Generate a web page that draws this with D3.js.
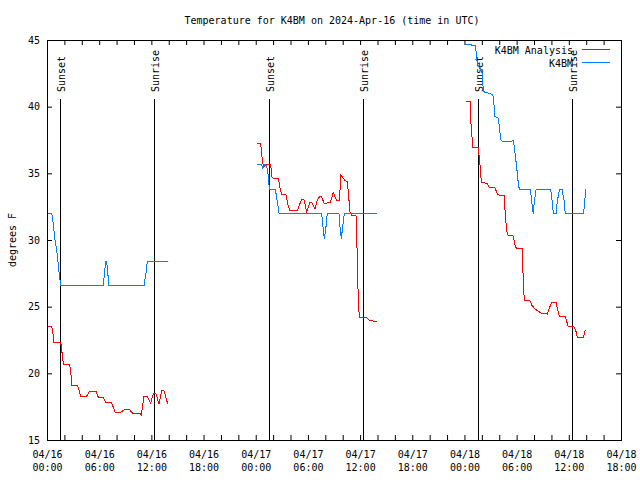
<!DOCTYPE html>
<html>
<head>
<meta charset="utf-8">
<script src="https://cdn.jsdelivr.net/npm/d3@7"></script>
<style>
  html, body { margin: 0; padding: 0; background: #fff; }
  svg { display: block; }
  text { font-family: "DejaVu Sans Mono", "Liberation Mono", monospace; font-size: 10px; fill: #000; }
</style>
</head>
<body>
<svg id="chart" width="640" height="480"></svg>
<script>
// ---- Data (hours since 2024-04-16 00:00 UTC, degrees F) ----
const titleText = "Temperature for K4BM on 2024-Apr-16 (time in UTC)";
const yLabelText = "degrees F";
const seriesNames = ["K4BM Analysis", "K4BM"];
const yTickValues = [15, 20, 25, 30, 35, 40, 45];

const analysisDay1 = [[0.08,23.55],[0.54,23.55],[0.66,23.1],[0.80,22.3],[1.58,22.3],[1.65,22.0],[1.88,20.68],[2.56,20.68],[2.72,20.25],[2.84,19.1],[3.48,19.1],[3.68,18.75],[3.87,18.28],[4.56,18.28],[4.86,18.65],[5.63,18.65],[5.90,18.2],[6.47,18.2],[6.78,17.78],[7.44,17.78],[7.82,17.1],[8.51,17.1],[8.97,17.3],[9.46,17.3],[9.85,17.0],[10.69,17.0],[10.84,16.88],[11.15,18.25],[11.53,18.25],[11.92,17.75],[12.22,18.48],[12.53,18.48],[12.88,17.7],[13.19,18.7],[13.45,18.7],[13.88,17.7]];
const stationDay1 = [[0.08,32.0],[0.54,32.0],[0.72,31.25],[0.92,30.0],[1.12,29.25],[1.30,28.1],[1.49,27.0],[1.61,26.55],[3.0,26.6],[4.5,26.55],[6.47,26.6],[6.75,28.4],[6.86,28.4],[7.13,26.55],[9.0,26.6],[11.15,26.55],[11.38,27.5],[11.53,28.4],[12.5,28.35],[13.88,28.4]];

const analysisDay2 = [[24.18,37.25],[24.57,37.25],[24.69,36.4],[24.80,35.75],[24.95,35.5],[25.26,35.68],[25.72,35.68],[25.84,34.75],[26.02,34.6],[26.60,34.6],[26.79,33.9],[26.99,33.4],[27.48,33.4],[27.75,32.5],[27.94,32.2],[28.78,32.2],[29.01,32.6],[29.29,33.05],[29.55,33.0],[29.86,32.13],[30.24,32.83],[30.47,32.8],[30.82,32.3],[31.08,33.0],[31.39,33.3],[31.58,33.25],[31.85,32.75],[32.54,32.8],[32.92,33.55],[33.31,32.93],[33.61,32.93],[33.80,34.88],[34.00,34.7],[34.26,34.45],[34.53,34.4],[34.84,32.13],[35.03,31.83],[35.53,31.83],[35.61,30.75],[35.68,28.13],[35.80,25.5],[35.91,24.2],[36.76,24.15],[37.14,23.95],[37.91,23.9]];
const stationDay2 = [[24.18,35.63],[24.69,35.63],[24.80,35.4],[25.07,35.7],[25.26,35.6],[25.45,34.75],[25.57,33.8],[26.22,33.8],[26.33,33.5],[26.48,32.9],[26.68,32.0],[31.58,32.0],[31.77,30.75],[31.89,30.1],[32.08,31.0],[32.23,32.0],[33.57,32.0],[33.69,31.0],[33.84,30.1],[34.00,31.0],[34.19,32.0],[37.91,32.0]];

const analysisDay3 = [[48.18,40.4],[48.64,40.4],[48.72,39.75],[48.75,38.75],[48.90,37.5],[48.95,36.95],[49.56,36.95],[49.67,36.38],[49.79,35.63],[49.90,34.63],[50.02,34.3],[50.63,34.25],[50.86,33.95],[51.51,33.9],[51.71,33.58],[51.89,33.38],[52.55,33.35],[52.66,32.25],[52.78,31.25],[52.93,30.38],[53.55,30.35],[53.70,30.0],[53.85,29.5],[54.01,29.38],[54.65,29.38],[54.70,28.25],[54.77,26.75],[54.88,25.5],[55.54,25.45],[55.73,25.13],[56.11,24.83],[56.38,24.7],[56.88,24.5],[57.53,24.45],[57.76,24.88],[58.03,25.35],[58.53,25.35],[58.68,24.9],[58.91,24.3],[59.56,24.3],[59.76,23.88],[59.94,23.5],[60.60,23.5],[60.83,23.13],[60.98,22.7],[61.67,22.7],[61.90,23.25]];
const stationDay3 = [[48.06,44.7],[48.64,44.7],[48.87,44.6],[49.29,44.55],[49.36,43.9],[49.48,43.25],[49.71,42.9],[49.98,42.75],[50.10,42.0],[50.17,41.13],[51.02,40.95],[51.25,40.95],[51.40,40.13],[51.51,39.25],[51.89,39.13],[52.01,38.5],[52.17,37.5],[52.47,37.38],[53.62,37.43],[53.73,37.0],[53.93,35.88],[54.08,35.0],[54.19,34.25],[54.31,33.8],[55.16,33.75],[55.54,33.8],[55.65,33.4],[55.80,32.5],[55.92,31.95],[56.03,32.9],[56.23,33.75],[57.92,33.8],[58.03,33.25],[58.22,32.0],[58.53,32.0],[58.68,32.9],[58.91,33.75],[59.22,33.8],[59.45,33.0],[59.56,32.2],[59.68,31.95],[61.67,32.0],[61.78,32.5],[61.94,33.8]];

const sunsetHours = [1.52, 25.55, 49.58];
const sunriseHours = [12.35, 36.35, 60.35];

// ---- Setup ----
const base = Date.UTC(2024, 3, 16, 0, 0);
const toDate = h => new Date(base + h * 3600e3);
const svg = d3.select("#chart");
const L = 47, R = 621, T = 40, B = 440;

const x = d3.scaleUtc().domain([toDate(0), toDate(66)]).range([L, R]);
const y = d3.scaleLinear().domain([15, 45]).range([B, T]);

const colors = ["#ff0000", "#0080ff"];

// Axes ticks (inward, gnuplot style)
const hourTicks = d3.utcHour.every(2).range(toDate(0), toDate(66.01));
const labelTicks = d3.utcHour.every(6).range(toDate(0), toDate(66.01));

svg.append("g").attr("transform", `translate(0,${B})`)
  .call(d3.axisBottom(x).tickValues(hourTicks).tickSize(-5).tickFormat(""))
  .call(g => g.select(".domain").remove());
svg.append("g").attr("transform", `translate(0,${T})`)
  .call(d3.axisTop(x).tickValues(hourTicks).tickSize(-5).tickFormat(""))
  .call(g => g.select(".domain").remove());

const xl = svg.append("g").attr("transform", `translate(0,${B})`)
  .call(d3.axisBottom(x).tickValues(labelTicks).tickSize(0).tickFormat(""))
  .call(g => g.select(".domain").remove());
xl.selectAll(".tick text").remove();
xl.selectAll(".tick").each(function(d) {
  const t = d3.select(this).append("text").attr("text-anchor", "middle").attr("fill", "#000");
  t.append("tspan").attr("x", 0).attr("y", 18).text(d3.utcFormat("%m/%d")(d));
  t.append("tspan").attr("x", 0).attr("y", 31).text(d3.utcFormat("%H:%M")(d));
});

const yl = svg.append("g").attr("transform", `translate(${L},0)`)
  .call(d3.axisLeft(y).tickValues(yTickValues).tickSize(-5).tickFormat(d3.format("d")).tickPadding(7))
  .call(g => g.select(".domain").remove());
yl.selectAll("text").attr("font-family", "DejaVu Sans Mono").attr("font-size", 10).attr("fill", "#000");
svg.append("g").attr("transform", `translate(${R},0)`)
  .call(d3.axisRight(y).tickValues(yTickValues).tickSize(-5).tickFormat(""))
  .call(g => g.select(".domain").remove());

svg.selectAll(".tick line").attr("stroke", "#000");

// Frame
svg.append("rect").attr("x", L + 0.5).attr("y", T + 0.5).attr("width", R - L).attr("height", B - T)
  .attr("fill", "none").attr("stroke", "#000").attr("shape-rendering", "crispEdges");

// Sunset / sunrise markers
const markers = sunsetHours.map(h => ({h, label: "Sunset"})).concat(sunriseHours.map(h => ({h, label: "Sunrise"})));
const mg = svg.append("g");
markers.forEach(m => {
  const px = Math.round(x(toDate(m.h))) + 0.5;
  mg.append("line").attr("x1", px).attr("x2", px).attr("y1", 99).attr("y2", B)
    .attr("stroke", "#000").attr("stroke-width", 1).attr("shape-rendering", "crispEdges");
  mg.append("text").attr("transform", `translate(${px + 1},92) rotate(-90)`)
    .attr("text-anchor", "start").attr("dy", "0.35em").text(m.label);
});

// Data lines
const line = d3.line().x(d => x(toDate(d[0]))).y(d => y(d[1]));
const analysisSegs = [analysisDay1, analysisDay2, analysisDay3];
const stationSegs = [stationDay1, stationDay2, stationDay3];
[analysisSegs, stationSegs].forEach((segs, i) => {
  segs.forEach(seg => {
    svg.append("path").attr("d", line(seg)).attr("fill", "none")
      .attr("stroke", colors[i]).attr("stroke-width", 1).attr("shape-rendering", "crispEdges");
  });
});

// Title and y label
svg.append("text").attr("x", 332).attr("y", 24).attr("text-anchor", "middle").text(titleText);
svg.append("text").attr("transform", "translate(12,240) rotate(-90)").attr("text-anchor", "middle")
  .attr("dy", "0.35em").text(yLabelText);

// Legend
const legendY = [50, 63];
seriesNames.forEach((name, i) => {
  svg.append("text").attr("x", 573).attr("y", legendY[i]).attr("dy", "0.35em")
    .attr("text-anchor", "end").text(name);
  svg.append("line").attr("x1", 582).attr("x2", 610).attr("y1", legendY[i] - 0.5).attr("y2", legendY[i] - 0.5)
    .attr("stroke", colors[i]).attr("stroke-width", 1).attr("shape-rendering", "crispEdges");
});
</script>
</body>
</html>
